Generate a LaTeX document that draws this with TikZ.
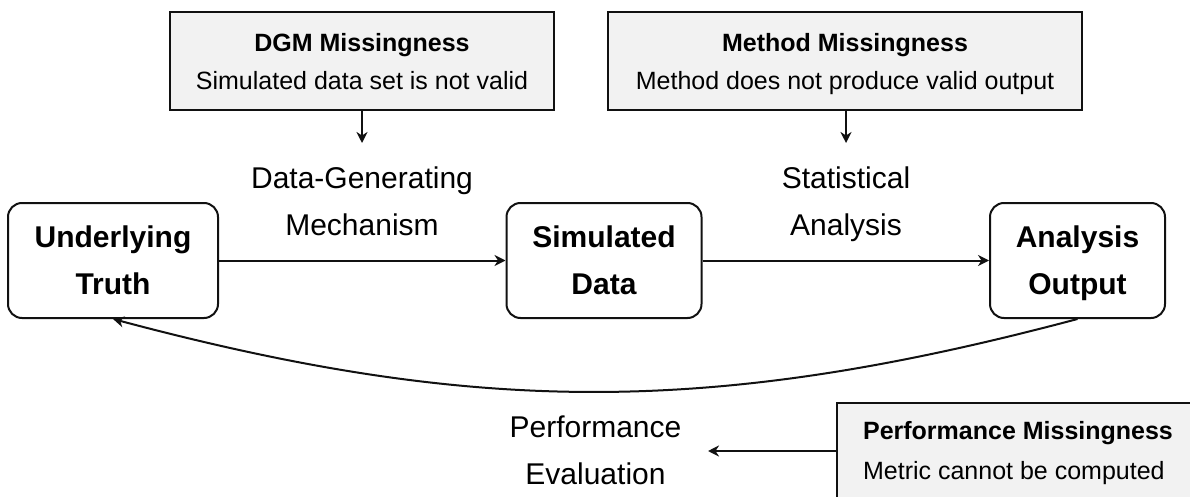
\documentclass[tikz,border=0pt]{standalone}
\usepackage{fontspec}
\setmainfont{Liberation Sans}
\usetikzlibrary{arrows.meta}
\definecolor{boxgray}{HTML}{F2F2F2}
\definecolor{linecol}{HTML}{111111}
\tikzset{
  mainbox/.style={draw=linecol, line width=2pt, rounded corners=14pt, align=center, minimum height=115pt, inner sep=0pt, text depth=0pt, font=\fontsize{30}{47}\selectfont\bfseries},
  missbox/.style={draw=linecol, fill=boxgray, line width=2pt, align=center, inner sep=0pt, text depth=0pt, font=\fontsize{25}{38}\selectfont},
  steplabel/.style={align=center, inner sep=0pt, text depth=0pt, font=\fontsize{30}{47}\selectfont},
  conn/.style={draw=linecol, line width=2pt, -{Stealth[length=11pt,width=11pt,inset=3.5pt]}},
}
\begin{document}
\begin{tikzpicture}[x=1pt,y=-1pt]
\useasboundingbox (0,0) rectangle (1190,497);
\clip (0,0) rectangle (1190,497);
\node[mainbox, minimum width=210pt] (truth) at (113,260.5) {Underlying\\Truth};
\node[mainbox, minimum width=195pt] (simdata) at (604,260.5) {Simulated\\Data};
\node[mainbox, minimum width=175pt] (output) at (1077.5,260.5) {Analysis\\Output};
\node[steplabel] (dgmlab) at (362,201) {Data-Generating\\Mechanism};
\node[steplabel] (anlab) at (846,201) {Statistical\\Analysis};
\node[steplabel] (evallab) at (595.5,449.7) {Performance\\Evaluation};
\node[missbox, minimum width=384pt, minimum height=98pt] (dgmmiss) at (362,61) {\textbf{DGM Missingness}\\Simulated data set is not valid};
\node[missbox, minimum width=474pt, minimum height=98pt] (methmiss) at (845,61) {\textbf{Method Missingness}\\Method does not produce valid output};
\node[missbox, anchor=north west, align=left, minimum width=362pt, minimum height=95pt, font=\fontsize{25}{40}\selectfont] (perfmiss) at (836,402) {\textbf{Performance Missingness}\\Metric cannot be computed};
\coordinate (dgmtip) at (362,143);
\coordinate (methtip) at (846,143);
\coordinate (evaltip) at (708,451);
\draw[conn] (truth.east) -- (simdata.west);
\draw[conn] (simdata.east) -- (output.west);
\draw[conn] (dgmmiss.south) -- (dgmtip);
\draw[conn] (methmiss.south -| methtip) -- (methtip);
\draw[conn] (perfmiss.west |- evaltip) -- (evaltip);
\draw[conn] (output.south) .. controls (713,416) and (477,416) .. (truth.south);
\end{tikzpicture}
\end{document}
